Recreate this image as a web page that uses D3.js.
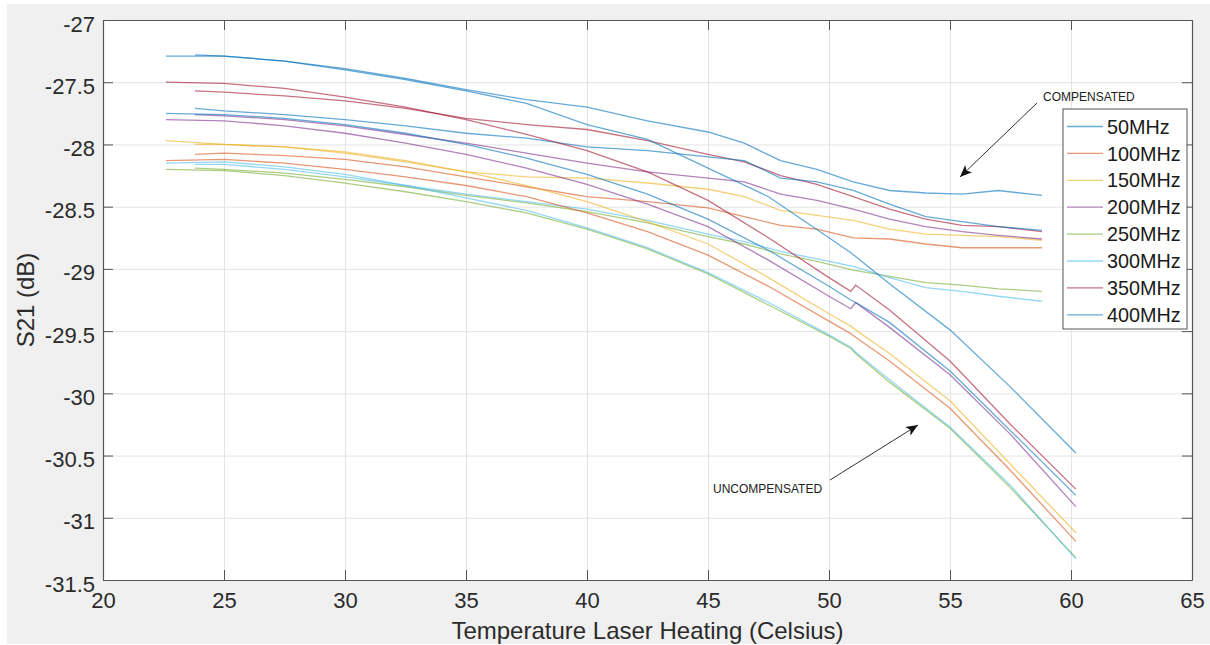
<!DOCTYPE html>
<html>
<head>
<meta charset="utf-8">
<script src="https://cdn.jsdelivr.net/npm/d3@7"></script>
<style>
  body { margin: 0; background: #fff; }
  svg { display: block; font-family: "Liberation Sans", Arial, sans-serif; }
</style>
</head>
<body>
<script>
const w = 1210;
const h = 645;
const padding = { top: 20, right: 18, bottom: 65, left: 103 };

const freqLabels = ['50MHz', '100MHz', '150MHz', '200MHz', '250MHz', '300MHz', '350MHz', '400MHz'];
const lineColors = ['#0072bd', '#d95319', '#edb120', '#7e2f8e', '#77ac30', '#4dbeee', '#a2142f', '#0072bd'];

const xTicks = [20, 25, 30, 35, 40, 45, 50, 55, 60, 65];
const yTicks = [-27, -27.5, -28, -28.5, -29, -29.5, -30, -30.5, -31, -31.5];

// compensated runs
const tempComp = [23.8, 25, 27.5, 30, 32.5, 35, 37.5, 40, 42.5, 45, 46.5, 48, 49.5, 51, 52.5, 54, 55.5, 57, 58.8];
const comp50 = [-27.28, -27.29, -27.33, -27.39, -27.47, -27.56, -27.64, -27.70, -27.81, -27.90, -27.99, -28.13, -28.20, -28.30, -28.37, -28.39, -28.40, -28.37, -28.41];
const comp100 = [-28.08, -28.07, -28.09, -28.12, -28.18, -28.26, -28.34, -28.42, -28.46, -28.51, -28.58, -28.65, -28.68, -28.75, -28.76, -28.80, -28.83, -28.83, -28.83];
const comp150 = [-28.00, -28.00, -28.02, -28.06, -28.13, -28.22, -28.26, -28.27, -28.31, -28.36, -28.42, -28.53, -28.57, -28.61, -28.68, -28.72, -28.73, -28.74, -28.77];
const comp200 = [-27.76, -27.77, -27.80, -27.85, -27.92, -27.99, -28.07, -28.15, -28.22, -28.27, -28.30, -28.40, -28.45, -28.52, -28.60, -28.66, -28.70, -28.73, -28.76];
const comp250 = [-28.19, -28.20, -28.23, -28.28, -28.34, -28.41, -28.47, -28.54, -28.63, -28.74, -28.80, -28.88, -28.94, -29.01, -29.06, -29.11, -29.13, -29.16, -29.18];
const comp300 = [-28.16, -28.16, -28.20, -28.26, -28.33, -28.40, -28.46, -28.52, -28.61, -28.72, -28.78, -28.86, -28.92, -28.98, -29.07, -29.15, -29.18, -29.22, -29.26];
const comp350 = [-27.57, -27.58, -27.61, -27.65, -27.71, -27.79, -27.84, -27.88, -27.97, -28.08, -28.14, -28.25, -28.32, -28.42, -28.52, -28.60, -28.65, -28.66, -28.70];
const comp400 = [-27.71, -27.73, -27.76, -27.80, -27.85, -27.91, -27.95, -28.02, -28.05, -28.10, -28.13, -28.27, -28.30, -28.37, -28.48, -28.58, -28.62, -28.66, -28.69];

// uncompensated runs
const tempUncomp = [22.6, 25, 27.5, 30, 32.5, 35, 37.5, 40, 42.5, 45, 47.5, 50, 50.9, 51.1, 52.5, 55, 57.5, 60.2];
const uncomp50 = [-27.29, -27.29, -27.33, -27.40, -27.48, -27.57, -27.67, -27.84, -27.96, -28.19, -28.42, -28.75, -28.87, -28.90, -29.12, -29.49, -29.95, -30.48];
const uncomp100 = [-28.13, -28.12, -28.15, -28.20, -28.26, -28.33, -28.42, -28.55, -28.70, -28.89, -29.14, -29.42, -29.52, -29.55, -29.74, -30.12, -30.62, -31.19];
const uncomp150 = [-27.97, -28.00, -28.02, -28.07, -28.14, -28.22, -28.33, -28.46, -28.62, -28.80, -29.07, -29.36, -29.46, -29.49, -29.68, -30.06, -30.57, -31.12];
const uncomp200 = [-27.80, -27.81, -27.85, -27.91, -27.99, -28.08, -28.19, -28.32, -28.48, -28.66, -28.93, -29.22, -29.32, -29.27, -29.47, -29.85, -30.33, -30.91];
const uncomp250 = [-28.20, -28.21, -28.25, -28.31, -28.38, -28.46, -28.55, -28.68, -28.84, -29.04, -29.29, -29.54, -29.64, -29.68, -29.91, -30.28, -30.76, -31.32];
const uncomp300 = [-28.15, -28.14, -28.18, -28.24, -28.33, -28.43, -28.53, -28.67, -28.83, -29.03, -29.27, -29.53, -29.63, -29.67, -29.89, -30.27, -30.74, -31.33];
const uncomp350 = [-27.50, -27.51, -27.55, -27.62, -27.70, -27.80, -27.92, -28.05, -28.22, -28.45, -28.75, -29.07, -29.18, -29.13, -29.33, -29.74, -30.25, -30.77];
const uncomp400 = [-27.75, -27.76, -27.79, -27.84, -27.91, -28.00, -28.11, -28.24, -28.40, -28.60, -28.85, -29.14, -29.25, -29.27, -29.43, -29.82, -30.30, -30.82];

const compSeries = [comp50, comp100, comp150, comp200, comp250, comp300, comp350, comp400];
const uncompSeries = [uncomp50, uncomp100, uncomp150, uncomp200, uncomp250, uncomp300, uncomp350, uncomp400];

const lines = [];
compSeries.forEach((vals, i) => lines.push({ color: lineColors[i], pts: vals.map((v, j) => [tempComp[j], v]) }));
uncompSeries.forEach((vals, i) => lines.push({ color: lineColors[i], pts: vals.map((v, j) => [tempUncomp[j], v]) }));

const svg = d3.select('body').append('svg')
  .attr('width', w)
  .attr('height', h);

// figure background
svg.append('rect')
  .attr('x', 7)
  .attr('y', 4)
  .attr('width', w - 7)
  .attr('height', h - 5)
  .attr('fill', '#f0f0f0');

const x = d3.scaleLinear().domain([20, 65]).range([padding.left, w - padding.right]);
const y = d3.scaleLinear().domain([-31.5, -27]).range([h - padding.bottom, padding.top]);
const plotW = w - padding.left - padding.right;
const plotH = h - padding.top - padding.bottom;

svg.append('rect')
  .attr('x', padding.left)
  .attr('y', padding.top)
  .attr('width', plotW)
  .attr('height', plotH)
  .attr('fill', '#fff');

// grid
const gridX = svg.append('g')
  .attr('transform', `translate(0, ${h - padding.bottom})`)
  .call(d3.axisBottom(x).tickValues(xTicks).tickSize(-plotH).tickFormat(() => ''));
const gridY = svg.append('g')
  .attr('transform', `translate(${padding.left}, 0)`)
  .call(d3.axisLeft(y).tickValues(yTicks).tickSize(-plotW).tickFormat(() => ''));
[gridX, gridY].forEach((g) => {
  g.select('.domain').remove();
  g.selectAll('line').attr('stroke', '#e4e4e4').attr('stroke-width', 1);
});

// data lines
const line = d3.line()
  .x((d) => x(d[0]))
  .y((d) => y(d[1]));

svg.append('g')
  .selectAll('path')
  .data(lines)
  .enter()
  .append('path')
  .attr('d', (d) => line(d.pts))
  .attr('fill', 'none')
  .attr('stroke', (d) => d.color)
  .attr('stroke-width', 1.3)
  .attr('stroke-opacity', 0.6);

// axes, box style with inward ticks
const fmt = (d) => String(d);
const axB = svg.append('g')
  .attr('transform', `translate(0, ${h - padding.bottom})`)
  .call(d3.axisBottom(x).tickValues(xTicks).tickSize(-10).tickSizeOuter(0).tickPadding(12).tickFormat(fmt));
const axT = svg.append('g')
  .attr('transform', `translate(0, ${padding.top})`)
  .call(d3.axisTop(x).tickValues(xTicks).tickSize(-10).tickSizeOuter(0).tickFormat(() => ''));
const axL = svg.append('g')
  .attr('transform', `translate(${padding.left}, 0)`)
  .call(d3.axisLeft(y).tickValues(yTicks).tickSize(-10).tickSizeOuter(0).tickPadding(8).tickFormat(fmt));
const axR = svg.append('g')
  .attr('transform', `translate(${w - padding.right}, 0)`)
  .call(d3.axisRight(y).tickValues(yTicks).tickSize(-10).tickSizeOuter(0).tickFormat(() => ''));

[axB, axT, axL, axR].forEach((g) => {
  g.attr('font-family', null).attr('font-size', null);
  g.select('.domain').attr('stroke', '#555').attr('stroke-width', 1.2);
  g.selectAll('.tick line').attr('stroke', '#555').attr('stroke-width', 1);
  g.selectAll('text').attr('fill', '#2b2b2b').style('font-size', '22px');
});
axL.selectAll('text').attr('dy', '0.5em');

// axis titles
svg.append('text')
  .attr('x', padding.left + plotW / 2)
  .attr('y', 639)
  .attr('text-anchor', 'middle')
  .attr('fill', '#2b2b2b')
  .style('font-size', '24px')
  .text('Temperature Laser Heating (Celsius)');

svg.append('text')
  .attr('transform', `translate(34, ${padding.top + plotH / 2}) rotate(-90)`)
  .attr('text-anchor', 'middle')
  .attr('fill', '#2b2b2b')
  .style('font-size', '24px')
  .text('S21 (dB)');

// legend
const legend = svg.append('g').attr('id', 'legend');
legend.append('rect')
  .attr('x', 1063)
  .attr('y', 109)
  .attr('width', 124)
  .attr('height', 220)
  .attr('fill', '#fff')
  .attr('stroke', '#555')
  .attr('stroke-width', 1);

const rowY = (i) => 126.5 + i * 26.9;
legend.selectAll('line')
  .data(freqLabels)
  .enter()
  .append('line')
  .attr('x1', 1067)
  .attr('x2', 1103)
  .attr('y1', (d, i) => rowY(i))
  .attr('y2', (d, i) => rowY(i))
  .attr('stroke', (d, i) => lineColors[i])
  .attr('stroke-width', 1.3)
  .attr('stroke-opacity', 0.6);

legend.selectAll('text')
  .data(freqLabels)
  .enter()
  .append('text')
  .attr('x', 1107)
  .attr('y', (d, i) => rowY(i))
  .attr('dy', '0.36em')
  .attr('fill', '#1a1a1a')
  .style('font-size', '19.8px')
  .text((d) => d);

// annotations
svg.append('defs').append('marker')
  .attr('id', 'head')
  .attr('viewBox', '-13 -6 14 12')
  .attr('markerUnits', 'userSpaceOnUse')
  .attr('markerWidth', 14)
  .attr('markerHeight', 12)
  .attr('refX', 0)
  .attr('refY', 0)
  .attr('orient', 'auto')
  .append('path')
  .attr('d', 'M0,0L-12,-5L-9,0L-12,5Z')
  .attr('fill', '#111');

const notes = [
  { label: 'COMPENSATED', tx: 1043, ty: 101, from: [1037, 103], to: [960, 177] },
  { label: 'UNCOMPENSATED', tx: 713, ty: 493, from: [830, 480], to: [918, 425] }
];

notes.forEach((n) => {
  svg.append('text')
    .attr('x', n.tx)
    .attr('y', n.ty)
    .attr('fill', '#222')
    .style('font-size', '12px')
    .text(n.label);
  svg.append('line')
    .attr('x1', n.from[0])
    .attr('y1', n.from[1])
    .attr('x2', n.to[0])
    .attr('y2', n.to[1])
    .attr('stroke', '#333')
    .attr('stroke-width', 1)
    .attr('marker-end', 'url(#head)');
});
</script>
</body>
</html>
